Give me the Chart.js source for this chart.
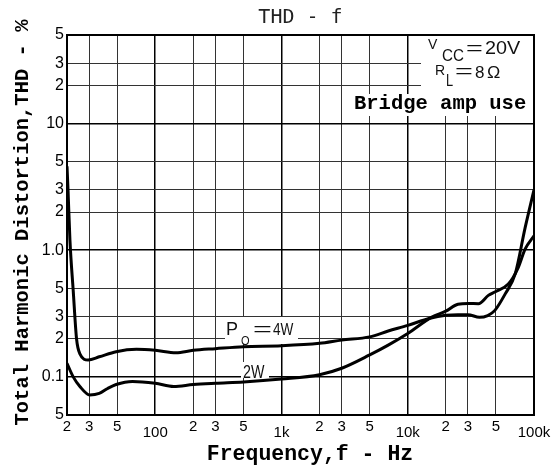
<!DOCTYPE html>
<html>
<head>
<meta charset="utf-8">
<script src="https://cdn.jsdelivr.net/npm/chart.js@4"></script>
<style>
  body { margin: 0; background: #fff; }
  canvas { display: block; }
</style>
</head>
<body>
<canvas id="thdChart" width="558" height="466"></canvas>
<script>
"use strict";
// axis ticks and their printed labels
let xTicks = [20, 30, 50, 100, 200, 300, 500, 1000, 2000, 3000, 5000, 10000, 20000, 30000, 50000, 100000];
let xLabels = ["2", "3", "5", "100", "2", "3", "5", "1k", "2", "3", "5", "10k", "2", "3", "5", "100k"];
let yTicks = [0.05, 0.1, 0.2, 0.3, 0.5, 1, 2, 3, 5, 10, 20, 30, 50];
let yLabels = ["5", "0.1", "2", "3", "5", "1.0", "2", "3", "5", "10", "2", "3", "5"];

// Po = 4W  (Hz, %)
let freq4W = [20, 20.4, 21.1, 22.4, 23.8, 25.3, 29.4, 36, 49, 71, 100, 146, 200, 300, 500, 1000, 2000, 3000, 5000, 7000,
  10000, 15000, 20000, 25000, 30000, 37000, 43000, 49000, 59000, 71000, 85000, 100000];
let thd4W = [4.6, 2.9, 1.2, 0.48, 0.2, 0.152, 0.136, 0.144, 0.158, 0.165, 0.162, 0.155, 0.162, 0.167, 0.173, 0.176, 0.184, 0.195, 0.207, 0.23,
  0.255, 0.29, 0.306, 0.31, 0.31, 0.295, 0.305, 0.335, 0.45, 0.65, 1.5, 3.0];

// Po = 2W
let freq2W = [20, 22.4, 25.3, 30.3, 36, 42, 49, 66, 100, 140, 200, 300, 500, 1000, 2000, 3000, 5000, 7000, 10000, 15500,
  20000, 25000, 30300, 36300, 43500, 49400, 62600, 75000, 85000, 100000];
let thd2W = [0.128, 0.1, 0.084, 0.072, 0.074, 0.081, 0.087, 0.092, 0.089, 0.084, 0.087, 0.089, 0.091, 0.096, 0.104, 0.117, 0.149, 0.178, 0.22, 0.296,
  0.33, 0.375, 0.38, 0.378, 0.44, 0.47, 0.54, 0.73, 1.02, 1.3];

const SANS = "'Liberation Sans', Arial, sans-serif";
const MONO = "'Liberation Mono', 'Courier New', monospace";

function isDecade(v) {
  let l = Math.log10(v);
  return Math.abs(l - Math.round(l)) < 1e-9;
}

function toPoints(xs, ys) {
  return xs.map((x, i) => ({ x: x, y: ys[i] }));
}

// small text helper, optional horizontal squeeze / stretch
function put(ctx, text, x, y, size, sx) {
  ctx.save();
  ctx.font = size + "px " + SANS;
  ctx.translate(x, y);
  ctx.scale(sx || 1, 1);
  ctx.fillText(text, 0, 0);
  ctx.restore();
}

const notes = {
  id: "notes",
  beforeDatasetsDraw(chart) {
    const ctx = chart.ctx;
    const a = chart.chartArea;
    ctx.save();
    // white patches behind the labels
    ctx.fillStyle = "#fff";
    ctx.fillRect(421, a.top + 1, a.right - 1 - 421, 58);
    ctx.fillRect(352, 94, a.right - 1 - 352, 22);
    ctx.fillRect(225, 317, 73, 27);
    ctx.fillRect(241, 362, 28, 16);

    ctx.fillStyle = "#111";
    ctx.textBaseline = "alphabetic";
    ctx.textAlign = "left";
    // Vcc = 20V
    put(ctx, "V", 428, 49, 14);
    put(ctx, "CC", 442, 61, 16, 0.95);
    put(ctx, "=", 466, 54, 18, 1.6);
    put(ctx, "20V", 485, 54, 18, 1.1);
    // RL = 8 ohm
    put(ctx, "R", 435, 75, 14);
    put(ctx, "L", 446, 86, 16, 0.8);
    put(ctx, "=", 455, 77, 18, 1.7);
    put(ctx, "8", 475, 78, 17);
    put(ctx, "Ω", 487, 78, 17, 1.05);

    ctx.font = "bold 20.5px " + MONO;
    ctx.fillStyle = "#000";
    ctx.fillText("Bridge amp use", 354, 108.5);

    ctx.fillStyle = "#111";
    // curve labels
    put(ctx, "P", 226, 335, 18);
    put(ctx, "O", 241, 345, 13, 0.85);
    put(ctx, "=", 253, 335, 18, 1.8);
    put(ctx, "4W", 273, 335, 17, 0.8);
    put(ctx, "2W", 243, 378, 19, 0.75);
    ctx.restore();
  },
  afterDraw(chart) {
    const ctx = chart.ctx;
    const a = chart.chartArea;
    ctx.save();
    ctx.strokeStyle = "#000";
    ctx.lineWidth = 2;
    ctx.strokeRect(a.left, a.top, a.right - a.left, a.bottom - a.top);
    ctx.fillStyle = "#000";
    ctx.textAlign = "center";
    ctx.textBaseline = "middle";
    ctx.font = "bold 21.5px " + MONO;
    ctx.fillText("Frequency,f - Hz", 310, 455);
    // vertical axis title
    ctx.translate(23, 222.5);
    ctx.rotate(-Math.PI / 2);
    ctx.font = "bold 20.5px " + MONO;
    ctx.fillText("Total Harmonic Distortion,THD - %", 0, 0);
    ctx.restore();
  }
};

let ctx = document.getElementById("thdChart").getContext("2d");
let thdChart = new Chart(ctx, {
  type: "line",
  data: {
    datasets: [
      {
        label: "Po=4W",
        data: toPoints(freq4W, thd4W),
        borderColor: "#000",
        borderWidth: 3,
        pointRadius: 0,
        cubicInterpolationMode: "monotone",
        fill: false,
      },
      {
        label: "2W",
        data: toPoints(freq2W, thd2W),
        borderColor: "#000",
        borderWidth: 3,
        pointRadius: 0,
        cubicInterpolationMode: "monotone",
        fill: false,
      },
    ],
  },
  options: {
    responsive: false,
    animation: false,
    events: [],
    layout: { padding: { left: 0, right: 24, top: 0, bottom: 0 } },
    plugins: {
      legend: { display: false },
      tooltip: { enabled: false },
      title: {
        display: true,
        text: "THD - f",
        fullSize: false,
        color: "#222",
        font: { family: "'DejaVu Sans Mono', monospace", size: 20, weight: "normal", lineHeight: 1 },
        padding: { top: 8, bottom: 7 },
      },
    },
    scales: {
      x: {
        type: "logarithmic",
        min: 20,
        max: 100000,
        afterBuildTicks: (scale) => { scale.ticks = xTicks.map((v) => ({ value: v })); },
        afterFit: (scale) => { scale.height = 51; },
        ticks: {
          autoSkip: false,
          maxRotation: 0,
          minRotation: 0,
          padding: 3,
          color: "#000",
          font: (c) => ({ family: SANS, size: 15, lineHeight: c.tick && isDecade(c.tick.value) ? "30px" : "18px" }),
          callback: (v, i) => xLabels[i],
        },
        grid: {
          drawTicks: false,
          color: (c) => (c.tick && isDecade(c.tick.value) ? "#000" : "#333"),
          lineWidth: (c) => (c.tick && isDecade(c.tick.value) ? 1.5 : 1),
        },
        border: { display: true, color: "#000", width: 2 },
      },
      y: {
        type: "logarithmic",
        min: 0.05,
        max: 50,
        afterBuildTicks: (scale) => { scale.ticks = yTicks.map((v) => ({ value: v })); },
        afterFit: (scale) => { scale.width = 67; },
        ticks: {
          autoSkip: false,
          padding: 3,
          color: "#000",
          font: { family: SANS, size: 16 },
          callback: (v, i) => yLabels[i],
        },
        grid: {
          drawTicks: false,
          color: (c) => (c.tick && isDecade(c.tick.value) ? "#000" : "#333"),
          lineWidth: (c) => (c.tick && isDecade(c.tick.value) ? 1.5 : 1),
        },
        border: { display: true, color: "#000", width: 2 },
      },
    },
  },
  plugins: [notes],
});
</script>
</body>
</html>
